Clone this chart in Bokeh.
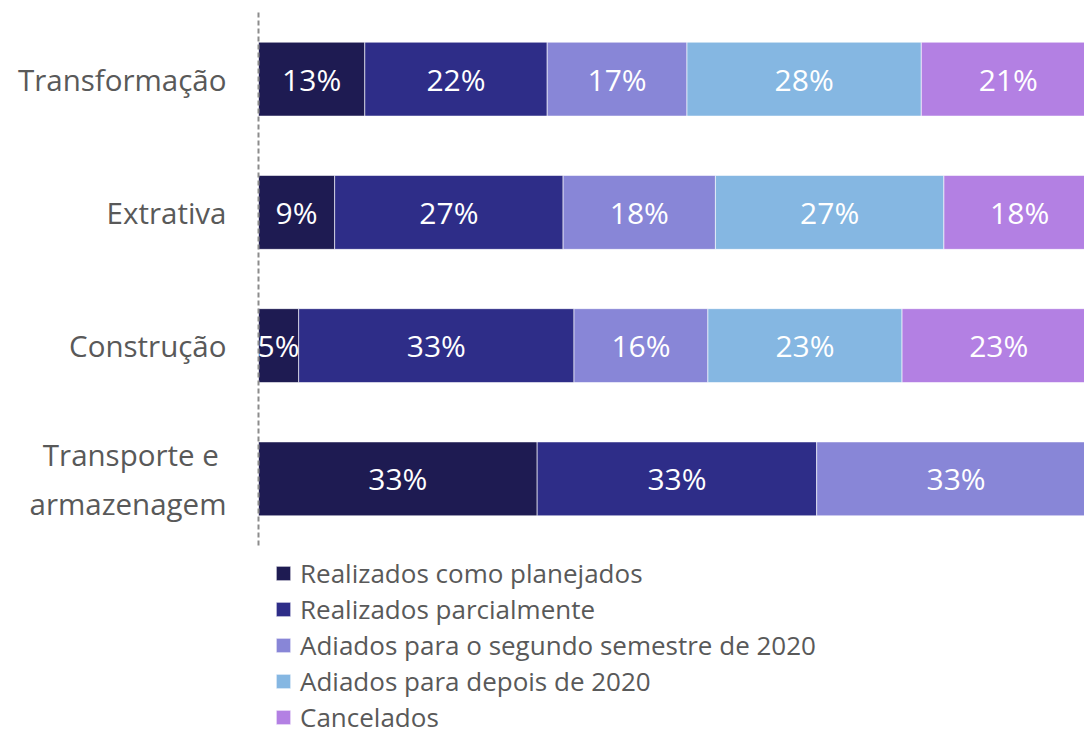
from bokeh.plotting import figure
from bokeh.models import ColumnDataSource, Legend, LegendItem, FixedTicker
from bokeh.core.properties import value
from bokeh.embed import file_html
from bokeh.resources import INLINE

categories = ["Transformação", "Extrativa", "Construção", "Transporte e \narmazenagem"]
series = ["Realizados como planejados", "Realizados parcialmente",
          "Adiados para o segundo semestre de 2020", "Adiados para depois de 2020",
          "Cancelados"]
realizados_planejados = [12.7, 9.1, 4.8, 33.3]
realizados_parcial = [21.8, 27.3, 32.9, 33.4]
adiados_2sem = [16.7, 18.2, 16.0, 33.3]
adiados_depois = [28.0, 27.3, 23.2, 0.0]
cancelados = [20.8, 18.1, 23.1, 0.0]
colors = ["#1E1B52", "#2E2D88", "#8886D7", "#85B7E2", "#B380E3"]

n = len(categories)
ypos = [n - 1 - i for i in range(n)]   # first category on top

keys = ["s0", "s1", "s2", "s3", "s4"]
vals = [realizados_planejados, realizados_parcial, adiados_2sem, adiados_depois, cancelados]
data = {"y": ypos}
for k, v in zip(keys, vals):
    data[k] = v
source = ColumnDataSource(data)

FONT = "Open Sans"
FRAME_H = 723
BAND = 533 / n
y_top = n - 0.5
y_bottom = y_top - FRAME_H / BAND

p = figure(frame_width=826, frame_height=FRAME_H,
           output_backend="svg", toolbar_location=None,
           y_range=(y_bottom, y_top), x_range=(0, 98.7),
           min_border_left=258, min_border_top=12, min_border_right=0,
           min_border_bottom=0)
p.outline_line_color = None
p.grid.visible = False
p.xaxis.visible = False

renderers = p.hbar_stack(keys, y="y", height=0.555, color=colors, source=source,
                         line_color="white", line_width=1, line_alpha=0.6)

# labels
lx, ly, lt = [], [], []
for i in range(n):
    cum = 0.0
    for v in vals:
        val = v[i]
        if val > 0:
            lx.append(cum + val / 2)
            ly.append(ypos[i])
            lt.append(f"{round(val)}%")
        cum += val
p.text(x=lx, y=ly, text=lt, text_color="white", text_font=value(FONT),
       text_font_size="30px", text_align="center", text_baseline="middle")

yax = p.yaxis[0]
yax.ticker = FixedTicker(ticks=ypos)
yax.major_label_overrides = {yp: c for yp, c in zip(ypos, categories)}
yax.bounds = (-0.5, n - 0.5)
yax.axis_line_color = "#8C8C8C"
yax.axis_line_width = 2
yax.axis_line_dash = "5 3"
yax.major_tick_line_color = None
yax.minor_tick_line_color = None
yax.major_label_text_font = FONT
yax.major_label_text_font_size = "29.5px"
yax.major_label_text_color = "#595959"
yax.major_label_standoff = 26

items = [LegendItem(label=s, renderers=[r]) for s, r in zip(series, renderers)]
legend = Legend(items=items, location=(16, 0), orientation="vertical",
                label_text_font=FONT, label_text_font_size="26px",
                label_text_color="#595959", glyph_width=18, glyph_height=18,
                label_height=34, spacing=0, padding=0, margin=0,
                label_standoff=8, border_line_color=None,
                background_fill_alpha=0)
p.add_layout(legend, "center")

open("out.html", "w").write(file_html(p, INLINE))
